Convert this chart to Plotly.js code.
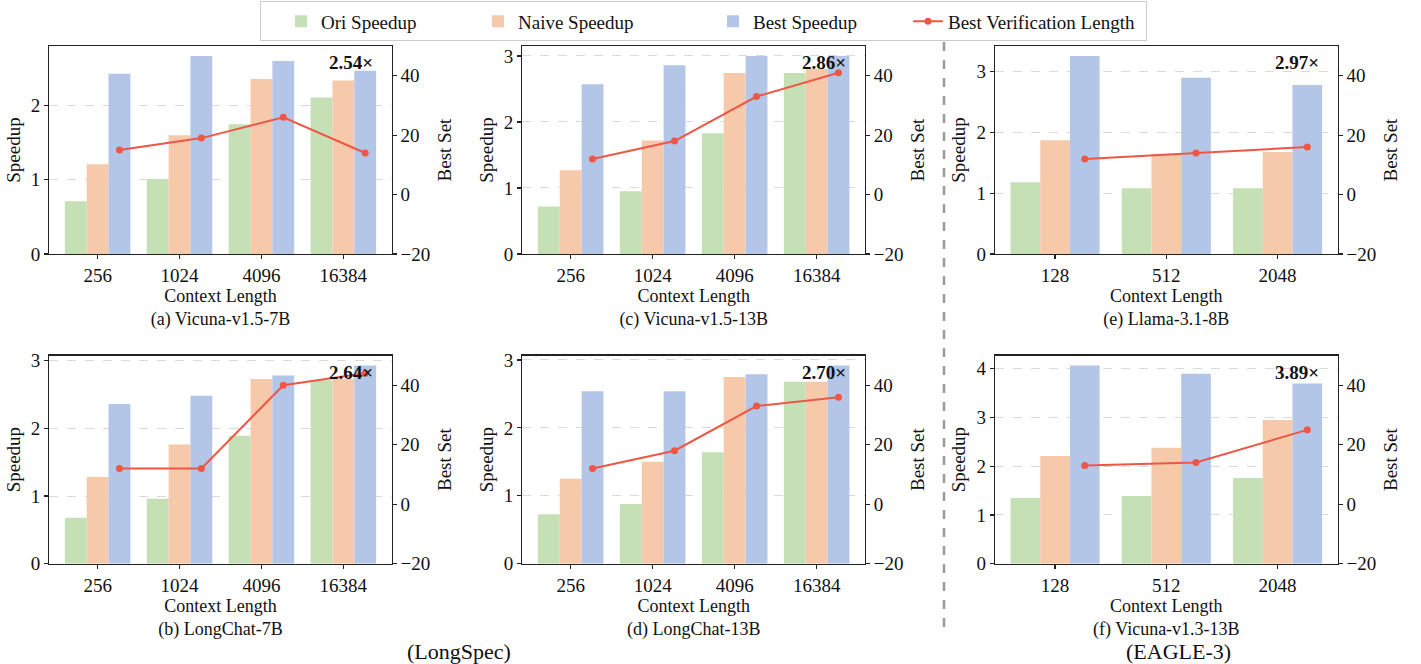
<!DOCTYPE html>
<html>
<head>
<meta charset="utf-8">
<script src="https://cdn.plot.ly/plotly-3.0.1.min.js"></script>
<style>html,body{margin:0;padding:0;background:#fff;}#chart{width:1421px;height:664px;}</style>
</head>
<body>
<div id="chart"></div>
<script>
// ---- data ----
const catsLong = ['256', '1024', '4096', '16384'];
const catsEagle = ['128', '512', '2048'];

const oriA = [0.71, 1.01, 1.75, 2.11];
const naiveA = [1.21, 1.60, 2.36, 2.34];
const bestA = [2.43, 2.67, 2.60, 2.47];
const lenA = [15, 19, 26, 14];

const oriB = [0.68, 0.96, 1.89, 2.71];
const naiveB = [1.28, 1.76, 2.73, 2.73];
const bestB = [2.36, 2.48, 2.78, 2.93];
const lenB = [12, 12, 40, 44];

const oriC = [0.72, 0.95, 1.83, 2.74];
const naiveC = [1.27, 1.72, 2.74, 2.80];
const bestC = [2.57, 2.86, 3.00, 3.00];
const lenC = [12, 18, 33, 41];

const oriD = [0.73, 0.88, 1.64, 2.68];
const naiveD = [1.25, 1.50, 2.75, 2.68];
const bestD = [2.54, 2.54, 2.79, 2.92];
const lenD = [12, 18, 33, 36];

const oriE = [1.18, 1.08, 1.08];
const naiveE = [1.87, 1.65, 1.68];
const bestE = [3.26, 2.90, 2.78];
const lenE = [12, 14, 16];

const oriF = [1.35, 1.39, 1.76];
const naiveF = [2.21, 2.38, 2.95];
const bestF = [4.07, 3.90, 3.70];
const lenF = [13, 14, 25];

const seriesNames = ['Ori Speedup', 'Naive Speedup', 'Best Speedup', 'Best Verification Length'];
const panelCaptions = ['(a) Vicuna-v1.5-7B', '(b) LongChat-7B', '(c) Vicuna-v1.5-13B', '(d) LongChat-13B', '(e) Llama-3.1-8B', '(f) Vicuna-v1.3-13B'];
const bestLabels = ['2.54×', '2.64×', '2.86×', '2.70×', '2.97×', '3.89×'];
const groupLabels = ['(LongSpec)', '(EAGLE-3)'];

// ---- style ----
const FONT = '"Liberation Serif", "Times New Roman", Times, serif';
const colors = ['#C5E0B4', '#F6C9AA', '#B4C6E7', '#EE5646'];
const legendWidths = [132, 170, 130, 193];
const W = 1421, H = 664;

// panel geometry in px: [left, right, top, bottom]
const panels = [
  {cats: catsLong, ori: oriA, naive: naiveA, best: bestA, len: lenA, cap: panelCaptions[0], lab: bestLabels[0], box: [49.3, 391.7, 46, 254]},
  {cats: catsLong, ori: oriC, naive: naiveC, best: bestC, len: lenC, cap: panelCaptions[2], lab: bestLabels[2], box: [522.3, 865, 46, 254]},
  {cats: catsEagle, ori: oriE, naive: naiveE, best: bestE, len: lenE, cap: panelCaptions[4], lab: bestLabels[4], box: [995, 1337.7, 46, 254]},
  {cats: catsLong, ori: oriB, naive: naiveB, best: bestB, len: lenB, cap: panelCaptions[1], lab: bestLabels[1], box: [49.3, 391.7, 355.5, 563.7]},
  {cats: catsLong, ori: oriD, naive: naiveD, best: bestD, len: lenD, cap: panelCaptions[3], lab: bestLabels[3], box: [522.3, 865, 355.5, 563.7]},
  {cats: catsEagle, ori: oriF, naive: naiveF, best: bestF, len: lenF, cap: panelCaptions[5], lab: bestLabels[5], box: [995, 1337.7, 355.5, 563.7]}
];

const data = [];
const layout = {
  width: W, height: H,
  margin: {l: 0, r: 0, t: 0, b: 0},
  paper_bgcolor: '#fff', plot_bgcolor: '#fff',
  font: {family: FONT, size: 19, color: '#111'},
  barmode: 'group', bargap: 0.2, bargroupgap: 0,
  showlegend: true,
  legend: {
    orientation: 'h', x: 260 / W, xanchor: 'left', y: 0.998, yanchor: 'top',
    bordercolor: '#cccccc', borderwidth: 1, bgcolor: '#fff', indentation: 20,
    font: {family: FONT, size: 19, color: '#111'},
    traceorder: 'normal'
  },
  annotations: [],
  shapes: []
};

panels.forEach((p, i) => {
  const xn = i === 0 ? '' : String(i + 1);
  const y1n = i === 0 ? '' : String(2 * i + 1);
  const y2n = String(2 * i + 2);
  const xa = 'x' + xn, ya = 'y' + y1n, yb = 'y' + y2n;
  const idx = p.cats.map((c, k) => k);
  const n = p.cats.length;
  const bw = 0.8 / 3;
  const first = i === 0;
  [p.ori, p.naive, p.best].forEach((vals, s) => {
    data.push({
      type: 'bar', x: idx, y: vals, name: seriesNames[s], legendgroup: seriesNames[s],
      showlegend: first, legendwidth: legendWidths[s], marker: {color: colors[s], line: {width: 0}},
      xaxis: xa, yaxis: ya, hoverinfo: 'y'
    });
  });
  data.push({
    type: 'scatter', mode: 'lines+markers', x: idx.map(k => k + bw), y: p.len,
    name: seriesNames[3], legendgroup: seriesNames[3], showlegend: first, legendwidth: legendWidths[3],
    line: {color: colors[3], width: 2}, marker: {color: colors[3], size: 7},
    xaxis: xa, yaxis: yb
  });

  const [l, r, t, b] = p.box;
  const dx = [l / W, r / W];
  const dy = [1 - b / H, 1 - t / H];
  const maxV = Math.max(...p.ori, ...p.naive, ...p.best) * 1.05;
  const pad = 0.4 + 0.05 * (n - 1 + 0.8);
  layout['xaxis' + xn] = {
    domain: dx, anchor: ya, type: 'linear', range: [-pad, n - 1 + pad],
    tickvals: idx, ticktext: p.cats, ticks: 'outside', ticklen: 4, tickwidth: 1.2, tickcolor: '#222',
    showline: true, linecolor: '#222', linewidth: 1.2, mirror: true, showgrid: false, zeroline: false,
    tickfont: {family: FONT, size: 19, color: '#111'},
    title: {text: 'Context Length<br>' + p.cap, font: {family: FONT, size: 18, color: '#111'}, standoff: 0}
  };
  layout['yaxis' + y1n] = {
    domain: dy, anchor: xa, range: [0, maxV], dtick: 1, tick0: 0,
    ticks: 'outside', ticklen: 4, tickwidth: 1.2, tickcolor: '#222',
    showline: true, linecolor: '#222', linewidth: 1.2, mirror: true,
    showgrid: true, gridcolor: '#dadada', griddash: 'dash', gridwidth: 1, zeroline: false,
    tickfont: {family: FONT, size: 19, color: '#111'},
    title: {text: 'Speedup', font: {family: FONT, size: 19, color: '#111'}, standoff: 5}
  };
  layout['yaxis' + y2n] = {
    overlaying: ya, anchor: xa, side: 'right', range: [-20, 50], dtick: 20, tick0: -20,
    ticks: 'outside', ticklen: 4, tickwidth: 1.2, tickcolor: '#222',
    showline: false, showgrid: false, zeroline: false,
    tickfont: {family: FONT, size: 19, color: '#111'},
    title: {text: 'Best Set', font: {family: FONT, size: 19, color: '#111'}, standoff: 8}
  };
  layout.annotations.push({
    xref: xa + ' domain', yref: ya + ' domain', x: 0.95, y: 0.95, xanchor: 'right', yanchor: 'top', yshift: 6,
    text: '<b>' + p.lab + '</b>', showarrow: false, font: {family: FONT, size: 19, color: '#111'}
  });
});

layout.annotations.push({
  xref: 'paper', yref: 'paper', x: 458.5 / W, y: 1 - 651 / H, xanchor: 'center', yanchor: 'middle',
  text: groupLabels[0], showarrow: false, font: {family: FONT, size: 22, color: '#111'}
});
layout.annotations.push({
  xref: 'paper', yref: 'paper', x: 1178 / W, y: 1 - 651 / H, xanchor: 'center', yanchor: 'middle',
  text: groupLabels[1], showarrow: false, font: {family: FONT, size: 22, color: '#111'}
});
layout.shapes.push({
  type: 'line', xref: 'paper', yref: 'paper', x0: 944 / W, x1: 944 / W, y0: 1 - 627 / H, y1: 1 - 40 / H,
  line: {color: '#999999', width: 2.5, dash: 'dash'}
});

Plotly.newPlot('chart', data, layout, {displayModeBar: false, staticPlot: true});
</script>
</body>
</html>
